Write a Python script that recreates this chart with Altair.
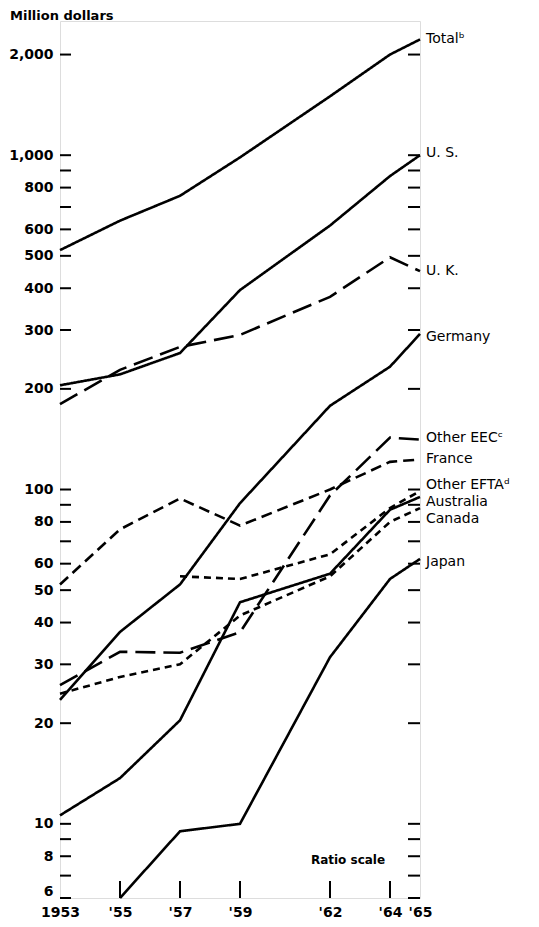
import altair as alt
import pandas as pd

# ---- data ----
years = [1953, 1955, 1957, 1959, 1962, 1964, 1965]
year_labels = ["1953", "'55", "'57", "'59", "'62", "'64", "'65"]

series_names = ["Total", "U. S.", "U. K.", "Germany", "Other EEC", "France",
                "Other EFTA", "Australia", "Canada", "Japan"]
total = [520, 637, 756, 985, 1500, 2000, 2220]
us = [205, 221, 256, 395, 616, 866, 1000]
uk = [180, 228, 267, 290, 377, 495, 450]
germany = [23.5, 37.5, 52, 91, 178, 233, 292]
other_eec = [26, 32.7, 32.5, 37.4, 96, 143, 141]
france = [52, 76, 94, 78, 100, 121, 123]
other_efta = [None, None, 55, 54, 64, 88, 99]
australia = [10.6, 13.7, 20.4, 46, 56, 87, 95]
canada = [24.5, 27.5, 30, 42, 55, 80, 88]
japan = [None, 6, 9.5, 10, 31.5, 54, 62]
series_values = [total, us, uk, germany, other_eec, france,
                 other_efta, australia, canada, japan]

label_texts = ["Total\u1d47", "U. S.", "U. K.", "Germany", "Other EEC\u1d9c",
               "France", "Other EFTA\u1d48", "Australia", "Canada", "Japan"]
label_pos = [2230, 1014, 450, 286, 143, 123, 103, 92, 81.5, 60.7]

tick_labeled = [2000, 1000, 800, 600, 500, 400, 300, 200, 100, 80, 60, 50,
                40, 30, 20, 10, 8, 6]
tick_unlabeled = [900, 700, 90, 70, 9, 7]
x_ticks_inner = [1955, 1957, 1959, 1962, 1964]

dash_styles = [[1, 0], [1, 0], [20, 8], [1, 0], [20, 8], [11, 6],
               [7, 5], [1, 0], [7, 5], [1, 0]]

# ---- tables ----
rows = []
for name, vals in zip(series_names, series_values):
    for yr, v in zip(years, vals):
        if v is not None:
            rows.append({"series": name, "year": yr, "value": v})
df = pd.DataFrame(rows)

lab_df = pd.DataFrame({"label": label_texts, "value": label_pos,
                       "year": [1965] * len(label_texts)})
ticks_df = pd.DataFrame({"value": tick_labeled + tick_unlabeled})
xt_df = pd.DataFrame({"year": x_ticks_inner})

FONT = "DejaVu Sans"
W, H = 360, 877

label_expr = ""
for yr, lb in zip(years, year_labels):
    label_expr += f"datum.value == {yr} ? \"{lb}\" : "
label_expr += "''"

xscale = alt.Scale(domain=[1953, 1965], nice=False, zero=False)
yscale = alt.Scale(type="log", domain=[6, 2520], nice=False)

x_enc = alt.X("year:Q", scale=xscale,
              axis=alt.Axis(values=years, labelExpr=label_expr, title=None,
                            ticks=False, domain=False, grid=False,
                            labelFont=FONT, labelFontSize=14,
                            labelFontWeight="bold", labelColor="black",
                            labelPadding=7, labelOverlap=False,
                            labelFlush=False))
y_enc = alt.Y("value:Q", scale=yscale,
              axis=alt.Axis(values=tick_labeled, format=",", title=None,
                            ticks=False, domain=False, grid=False,
                            labelFont=FONT, labelFontSize=14,
                            labelFontWeight="bold", labelColor="black",
                            labelPadding=7, labelOverlap=False,
                            labelFlush=False,
                            labelBaseline={"condition": {"test": "datum.value == 6",
                                                         "value": "bottom"},
                                           "value": "middle"}))

lines = alt.Chart(df).mark_line(color="black", strokeWidth=2.6).encode(
    x=x_enc,
    y=y_enc,
    strokeDash=alt.StrokeDash("series:N",
                              scale=alt.Scale(domain=series_names,
                                              range=dash_styles),
                              legend=None),
    detail="series:N",
)

left_ticks = alt.Chart(ticks_df).mark_rule(color="black", strokeWidth=2).encode(
    y=alt.Y("value:Q", scale=yscale), x=alt.value(0), x2=alt.value(11))
right_ticks = alt.Chart(ticks_df).mark_rule(color="black", strokeWidth=2).encode(
    y=alt.Y("value:Q", scale=yscale), x=alt.value(W - 12), x2=alt.value(W))
bottom_ticks = alt.Chart(xt_df).mark_rule(color="black", strokeWidth=2).encode(
    x=alt.X("year:Q", scale=xscale), y=alt.value(H - 17), y2=alt.value(H))

labels = alt.Chart(lab_df).mark_text(
    align="left", baseline="middle", dx=6, font=FONT, fontSize=14,
    color="black").encode(
    x=alt.X("year:Q", scale=xscale),
    y=alt.Y("value:Q", scale=yscale),
    text="label:N")

ratio_df = pd.DataFrame({"t": ["Ratio scale"], "year": [1962.6], "value": [7.8]})
ratio = alt.Chart(ratio_df).mark_text(
    font=FONT, fontSize=12, fontWeight="bold", color="black").encode(
    x=alt.X("year:Q", scale=xscale), y=alt.Y("value:Q", scale=yscale),
    text="t:N")

title_df = pd.DataFrame({"t": ["Million dollars"]})
title = alt.Chart(title_df).mark_text(
    align="left", baseline="middle", font=FONT, fontSize=13,
    fontWeight="bold", color="black").encode(
    x=alt.value(-50), y=alt.value(-5), text="t:N")

chart = alt.layer(lines, left_ticks, right_ticks, bottom_ticks, labels,
                  ratio, title).properties(
    width=W, height=H,
    autosize=alt.AutoSizeParams(type="none"),
    padding={"left": 52, "top": 13, "right": 111, "bottom": 21},
).configure_view(stroke="black", strokeWidth=2).configure(background="white")

chart.save("out.html", embed_options={"renderer": "svg", "actions": False})
